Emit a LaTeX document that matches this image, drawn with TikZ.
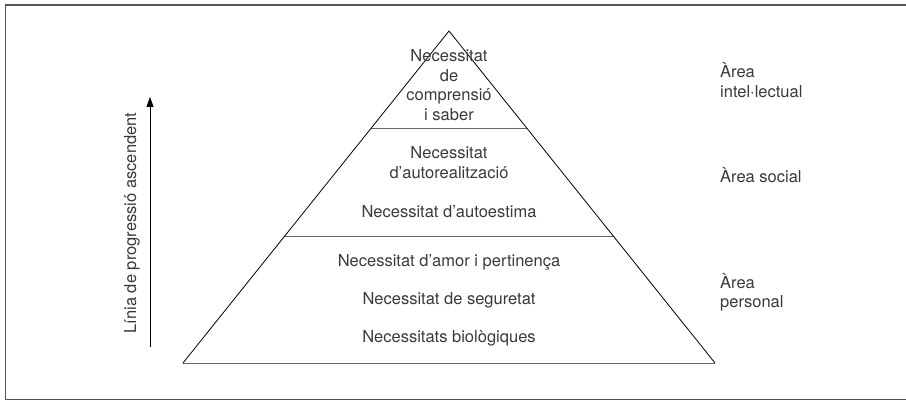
\documentclass[tikz,border=0pt]{standalone}
\usepackage{fontspec}
\setmainfont{TeX Gyre Heros}
\usetikzlibrary{arrows.meta}
\definecolor{txt}{HTML}{3A3A3A}
\definecolor{frm}{HTML}{555555}
\definecolor{lvl}{HTML}{666666}
\begin{document}
\begin{tikzpicture}[x=1pt,y=-1pt,
  lbl/.style={font=\fontsize{16.5}{19.5}\selectfont, text=txt, inner sep=0pt, align=center},
  side/.style={font=\fontsize{16.5}{19.5}\selectfont, text=txt, inner sep=0pt, align=left, anchor=west},
  edge/.style={draw=black, line width=0.8pt, line join=miter},
  divider/.style={draw=lvl, line width=1pt},
  frame/.style={draw=frm, line width=1.4pt}]
\useasboundingbox (0,0) rectangle (906,401);
% frame
\draw[frame] (906,5) -- (5.5,5) -- (5.5,399.5) -- (906,399.5);
% pyramid
\coordinate (apex) at (449,31);
\coordinate (bl) at (183,363);
\coordinate (br) at (715,363);
\coordinate (d1l) at (371,129);
\coordinate (d1r) at (527,129);
\coordinate (d2l) at (284.5,237);
\coordinate (d2r) at (613.5,237);
\draw[divider] (bl) -- (br);
\draw[divider] (d1l) -- (d1r);
\draw[divider] (d2l) -- (d2r);
\draw[edge] (bl) -- (apex) -- (br);
% texts in pyramid
\node[lbl] (t1) at (449,85) {Necessitat\\de\\comprensió\\i saber};
\node[lbl] (t2) at (449,162.5) {Necessitat\\d’autorealització};
\node[lbl] (t3) at (449,212) {Necessitat d’autoestima};
\node[lbl] (t4) at (449,262) {Necessitat d’amor i pertinença};
\node[lbl] (t5) at (449,300) {Necessitat de seguretat};
\node[lbl] (t6) at (449,338) {Necessitats biològiques};
% side labels
\node[side] (a1) at (720,80) {Àrea\\intel·lectual};
\node[side] (a2) at (720,175) {Àrea social};
\node[side] (a3) at (720,292) {Àrea\\personal};
% arrow
\coordinate (arrB) at (150,347);
\coordinate (arrT) at (150,97);
\draw[black, line width=0.8pt, -{Triangle[width=7pt,length=10pt]}] (arrB) -- (arrT);
\node[lbl, rotate=90] (prog) at (132,223) {Línia de progressió ascendent};
\end{tikzpicture}
\end{document}
